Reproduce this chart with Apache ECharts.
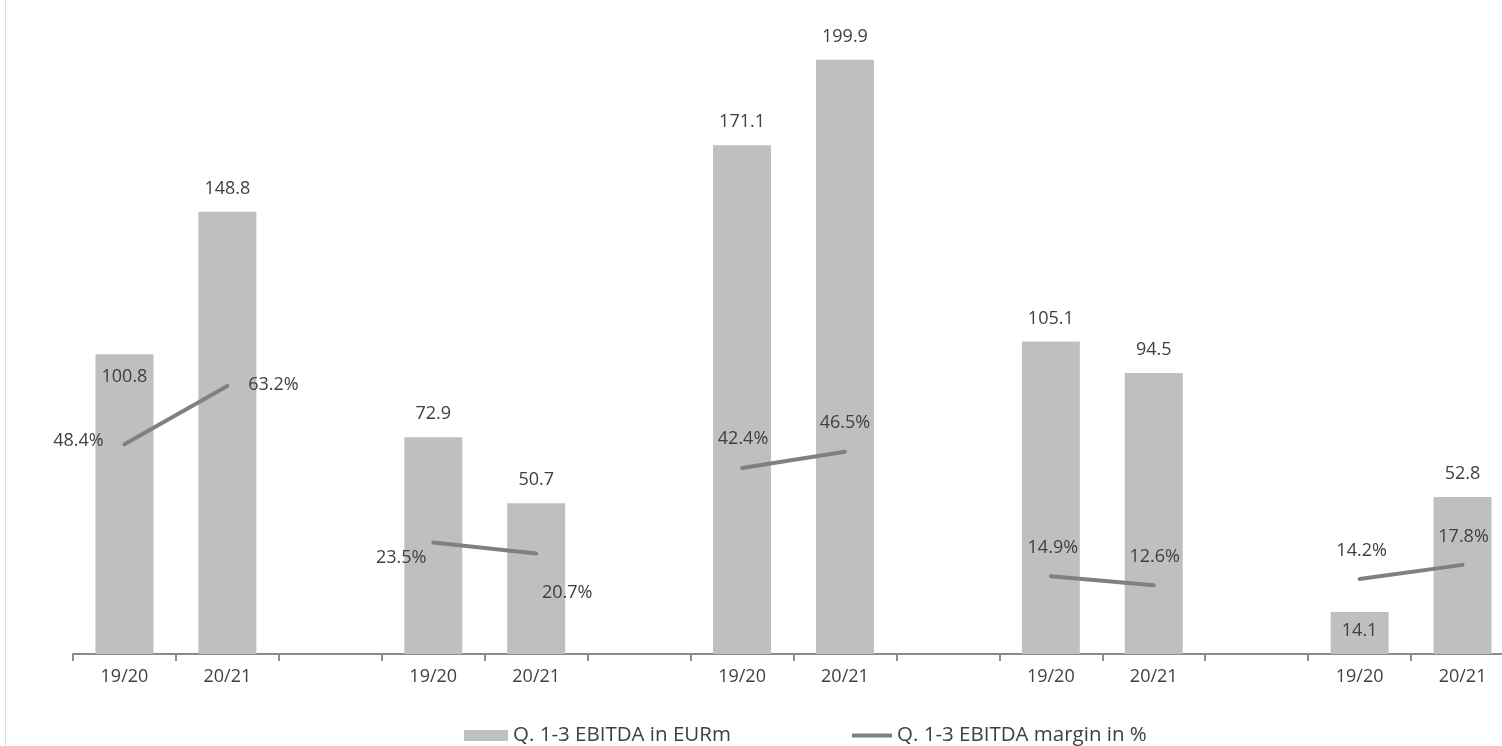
<!DOCTYPE html>
<html>
<head>
<meta charset="utf-8">
<style>
  html, body { margin: 0; padding: 0; background: #fff; }
  #chart { width: 1502px; height: 746px; }
</style>
<script src="https://cdn.jsdelivr.net/npm/echarts@6/dist/echarts.min.js"></script>
</head>
<body>
<div id="chart"></div>
<script>
// periods shown under each pair of bars
var periods = ['19/20', '20/21'];
var groupCount = 5;

// Q. 1-3 EBITDA in EURm, one pair per group
var ebitda = [
    [100.8, 148.8],
    [72.9, 50.7],
    [171.1, 199.9],
    [105.1, 94.5],
    [14.1, 52.8]
];

// Q. 1-3 EBITDA margin in %
var margin = [
    [48.4, 63.2],
    [23.5, 20.7],
    [42.4, 46.5],
    [14.9, 12.6],
    [14.2, 17.8]
];

var barName = 'Q. 1-3 EBITDA in EURm';
var lineName = 'Q. 1-3 EBITDA margin in %';

// label placement (styling only, keyed by flat index)
var barLabelInside = { 0: 14, 12: 10 };
var marginLabelOffset = {
    0: [-46, -3], 1: [46, -1],
    3: [-32, 15], 4: [31, 39],
    6: [1, -29], 7: [0, -29],
    9: [2, -28], 10: [1, -28],
    12: [2, -28], 13: [1, -28]
};

var textColor = '#404040';
var fontFamily = 'Open Sans';

// build flat category list: pair + empty gap between groups
var categories = [];
var barData = [];
var lineData = [];
for (var g = 0; g < groupCount; g++) {
    for (var p = 0; p < periods.length; p++) {
        var idx = categories.length;
        categories.push(periods[p]);

        var bItem = { value: ebitda[g][p] };
        if (barLabelInside[idx] !== undefined) {
            bItem.label = { position: 'insideTop', distance: barLabelInside[idx] };
        }
        barData.push(bItem);

        var off = marginLabelOffset[idx] || [0, -28];
        lineData.push({ value: margin[g][p], label: { offset: off } });
    }
    if (g < groupCount - 1) {
        categories.push('');
        barData.push(null);
        lineData.push(null);
    }
}

var chart = echarts.init(document.getElementById('chart'));

chart.setOption({
    animation: false,
    backgroundColor: '#fff',
    textStyle: { fontFamily: fontFamily },
    graphic: [{
        type: 'line',
        shape: { x1: 5.5, y1: 0, x2: 5.5, y2: 746 },
        style: { stroke: '#dedede', lineWidth: 1 },
        silent: true
    }],
    grid: {
        left: 73,
        top: 0,
        width: 1441,
        height: 654,
        outerBoundsMode: 'none'
    },
    legend: [{
        left: 459,
        top: 720,
        itemWidth: 44,
        itemHeight: 11,
        data: [{ name: barName, icon: 'rect' }],
        textStyle: { color: textColor, fontSize: 20.5, fontFamily: fontFamily }
    }, {
        left: 847,
        top: 720,
        itemWidth: 40,
        itemHeight: 4,
        data: [{ name: lineName, icon: 'rect' }],
        textStyle: { color: textColor, fontSize: 20.5, fontFamily: fontFamily }
    }],
    xAxis: {
        type: 'category',
        data: categories,
        axisLine: { lineStyle: { color: '#8a8a8a', width: 2 } },
        axisTick: { show: true, interval: 0, length: 7, lineStyle: { color: '#8a8a8a', width: 2 } },
        axisLabel: {
            interval: 0,
            margin: 14,
            color: textColor,
            fontSize: 18,
            fontFamily: fontFamily
        }
    },
    yAxis: [{
        type: 'value',
        min: 0,
        max: 220,
        show: false
    }, {
        type: 'value',
        min: -4.82,
        max: 161.17,
        show: false
    }],
    series: [{
        name: barName,
        type: 'bar',
        data: barData,
        barWidth: 58,
        itemStyle: { color: '#bfbfbf' },
        label: {
            show: true,
            position: 'top',
            distance: 14,
            color: textColor,
            fontSize: 18,
            fontFamily: fontFamily,
            formatter: function (p) { return p.value.toFixed(1); }
        }
    }, {
        name: lineName,
        type: 'line',
        yAxisIndex: 1,
        data: lineData,
        symbol: 'circle',
        symbolSize: 1,
        itemStyle: { color: '#808080' },
        lineStyle: { color: '#808080', width: 4, cap: 'round' },
        label: {
            show: true,
            position: 'inside',
            color: textColor,
            fontSize: 18,
            fontFamily: fontFamily,
            formatter: function (p) { return p.value.toFixed(1) + '%'; }
        }
    }]
});
</script>
</body>
</html>
